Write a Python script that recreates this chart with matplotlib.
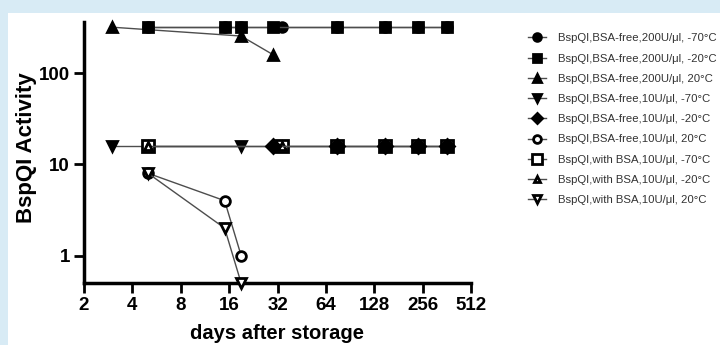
import matplotlib
matplotlib.use('Agg')
import matplotlib.pyplot as plt
from matplotlib.patches import Rectangle
from matplotlib.ticker import FixedLocator, FixedFormatter, NullLocator

plt.rcParams['font.family'] = ['Liberation Sans', 'DejaVu Sans']

# ---------------- data ----------------
labels = [
    'BspQI,BSA-free,200U/\u03bcl, -70\u00b0C',
    'BspQI,BSA-free,200U/\u03bcl, -20\u00b0C',
    'BspQI,BSA-free,200U/\u03bcl, 20\u00b0C',
    'BspQI,BSA-free,10U/\u03bcl, -70\u00b0C',
    'BspQI,BSA-free,10U/\u03bcl, -20\u00b0C',
    'BspQI,BSA-free,10U/\u03bcl, 20\u00b0C',
    'BspQI,with BSA,10U/\u03bcl, -70\u00b0C',
    'BspQI,with BSA,10U/\u03bcl, -20\u00b0C',
    'BspQI,with BSA,10U/\u03bcl, 20\u00b0C',
]

days = [
    [5, 15, 19, 34, 75, 150, 240, 365],        # 200U -70
    [5, 15, 19, 30, 75, 150, 240, 365],        # 200U -20
    [3, 19, 30],                               # 200U 20
    [3, 19],                                   # 10U -70
    [30, 75, 150, 240, 365],                   # 10U -20
    [5, 15, 19],                               # 10U 20
    [5, 34, 75, 150, 240, 365],                # BSA 10U -70
    [5, 34, 75, 150, 240, 365],                # BSA 10U -20
    [5, 15, 19],                               # BSA 10U 20
]

activity = [
    [320, 320, 320, 320, 320, 320, 320, 320],
    [320, 320, 320, 320, 320, 320, 320, 320],
    [320, 256, 160],
    [16, 16],
    [16, 16, 16, 16, 16],
    [8, 4, 1],
    [16, 16, 16, 16, 16, 16],
    [16, 16, 16, 16, 16, 16],
    [8, 2, 0.5],
]

markers = ['o', 's', '^', 'v', 'D', 'o', 's', '^', 'v']
filled = [True, True, True, True, True, False, False, False, False]
msizes = [7, 7, 7, 7, 7, 7, 8.5, 6, 7]
zorders = [3, 4, 3, 3, 5, 3, 4, 4, 3]

xticks = [2, 4, 8, 16, 32, 64, 128, 256, 512]
yticks = [1, 10, 100]

# ---------------- plot ----------------
fig = plt.figure(figsize=(7.2, 3.45), dpi=100, facecolor='#d8ebf5')
fig.patches.append(Rectangle((8 / 720, 0), 1, 1 - 13 / 345, transform=fig.transFigure,
                             facecolor='white', edgecolor='none', zorder=-5))

ax = fig.add_axes([84 / 720, 1 - 283 / 345, (471 - 84) / 720, (283 - 22) / 345])
ax.set_facecolor('none')
ax.set_zorder(2)

handles = []
for i in range(len(labels)):
    fc = 'black' if filled[i] else 'white'
    h, = ax.plot(days[i], activity[i], color='#4d4d4d', lw=1.0,
                 marker=markers[i], ms=msizes[i], mfc=fc, mec='black', mew=2.0,
                 label=labels[i], clip_on=False, zorder=zorders[i])
    handles.append(h)

ax.set_xscale('log', base=2)
ax.set_yscale('log')
ax.set_xlim(2, 512)
ax.set_ylim(0.5, 365)

ax.xaxis.set_major_locator(FixedLocator(xticks))
ax.xaxis.set_major_formatter(FixedFormatter([str(t) for t in xticks]))
ax.xaxis.set_minor_locator(NullLocator())
ax.yaxis.set_major_locator(FixedLocator(yticks))
ax.yaxis.set_major_formatter(FixedFormatter([str(t) for t in yticks]))
ax.yaxis.set_minor_locator(NullLocator())

for s in ['top', 'right']:
    ax.spines[s].set_visible(False)
for s in ['left', 'bottom']:
    ax.spines[s].set_linewidth(2.5)

ax.tick_params(axis='both', length=7, width=2, labelsize=13.5, direction='out', pad=3)
for t in ax.get_xticklabels() + ax.get_yticklabels():
    t.set_fontweight('bold')

ax.set_xlabel('days after storage', fontsize=14.5, fontweight='bold', labelpad=7)
ax.set_ylabel('BspQI Activity', fontsize=16, fontweight='bold', labelpad=4)
ax.yaxis.set_label_coords(-0.122, 0.52)

leg = fig.legend(handles=handles, loc='upper left', bbox_to_anchor=(518 / 720, 1 - 23 / 345),
                 frameon=False, fontsize=8.2, handlelength=1.6, handletextpad=1.0,
                 labelspacing=0.9, markerscale=0.8, labelcolor='#333333')
leg.set_zorder(3)

fig.savefig('out.png', dpi=100, facecolor=fig.get_facecolor())
